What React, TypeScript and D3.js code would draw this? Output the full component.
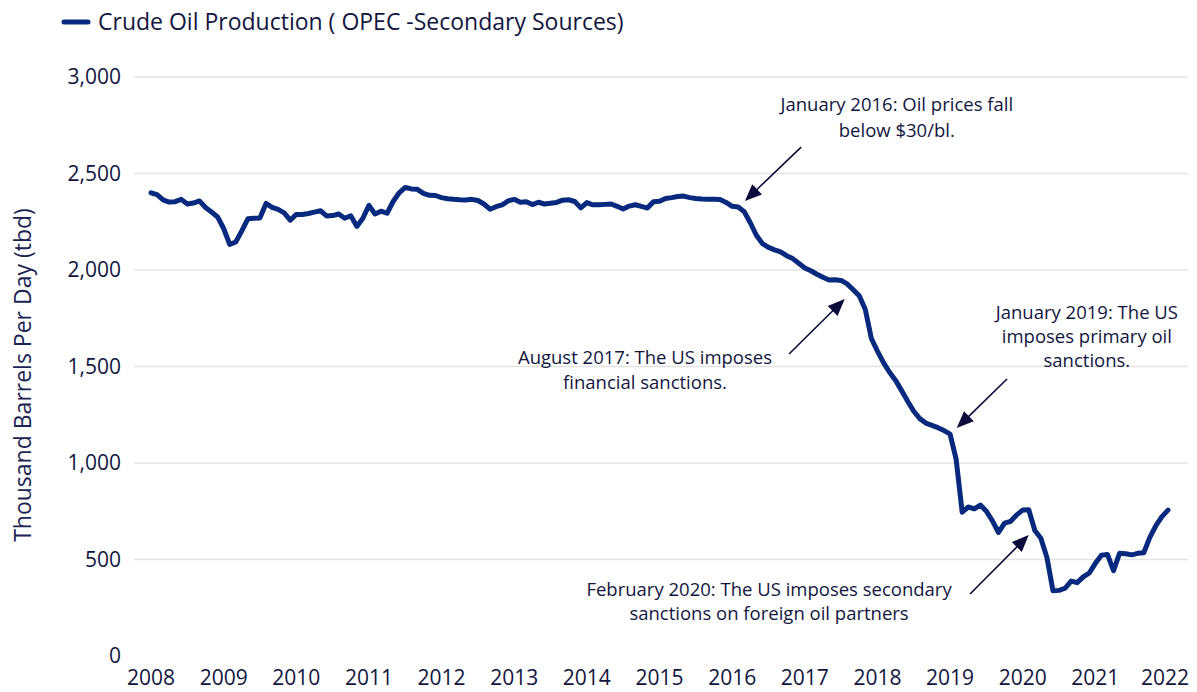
import React from "react";
import * as d3 from "d3";

// Monthly crude oil production (tbd), Jan 2008 .. Jan 2022
const startYear = 2008;
const production: number[] = [
  // 2008
  2400, 2390, 2363, 2352, 2354, 2366, 2342, 2347, 2358, 2324, 2300, 2275,
  // 2009
  2215, 2133, 2145, 2203, 2265, 2268, 2270, 2345, 2325, 2314, 2296, 2258,
  // 2010
  2288, 2288, 2293, 2300, 2307, 2280, 2282, 2290, 2268, 2281, 2226, 2268,
  // 2011
  2335, 2290, 2305, 2294, 2355, 2400, 2428, 2420, 2418, 2397, 2387, 2386,
  // 2012
  2375, 2369, 2366, 2364, 2363, 2366, 2360, 2342, 2315, 2328, 2337, 2358,
  // 2013
  2366, 2351, 2354, 2339, 2351, 2342, 2346, 2350, 2362, 2364, 2355, 2322,
  // 2014
  2349, 2338, 2338, 2340, 2342, 2330, 2316, 2331, 2338, 2330, 2321, 2354,
  // 2015
  2356, 2370, 2375, 2381, 2383, 2375, 2370, 2368, 2367, 2366, 2365, 2350,
  // 2016
  2330, 2326, 2302, 2245, 2180, 2137, 2117, 2104, 2094, 2074, 2059, 2035,
  // 2017
  2010, 1996, 1978, 1962, 1948, 1950, 1946, 1928, 1898, 1866, 1795, 1645,
  // 2018
  1580, 1520, 1470, 1428, 1375, 1320, 1268, 1230, 1207, 1195, 1183, 1168,
  // 2019
  1150, 1020, 745, 772, 762, 782, 750, 700, 640, 688, 698, 731,
  // 2020
  756, 758, 650, 610, 510, 338, 340, 351, 388, 380, 410, 430,
  // 2021
  480, 522, 526, 442, 532, 530, 524, 532, 535, 615, 675, 722,
  // 2022
  756,
];

const yearLabels: string[] = [
  "2008", "2009", "2010", "2011", "2012", "2013", "2014", "2015",
  "2016", "2017", "2018", "2019", "2020", "2021", "2022",
];
const yTicks: number[] = [0, 500, 1000, 1500, 2000, 2500, 3000];

const seriesName = "Crude Oil Production ( OPEC -Secondary Sources)";
const yTitle = "Thousand Barrels Per Day (tbd)";

// Annotation texts
const annotationTexts: string[][] = [
  ["January 2016: Oil prices fall", "below $30/bl."],
  ["August 2017: The US imposes", "financial sanctions."],
  ["January 2019: The US", "imposes primary oil", "sanctions."],
  ["February 2020: The US imposes secondary", "sanctions on foreign oil partners"],
];

const W = 1197;
const H = 692;
const FONT = "'Open Sans', 'Noto Sans', sans-serif";
const LINE_COLOR = "#082a7e";
const TEXT_COLOR = "#12163f";

export default function App() {
  const x = d3.scaleLinear().domain([0, 168]).range([151, 1168]);
  const y = d3.scaleLinear().domain([0, 3000]).range([656, 77]);

  const line = d3
    .line<number>()
    .x((_, i) => x(i))
    .y((d) => y(d))
    .curve(d3.curveLinear);

  // Annotation layout in data space: [monthIndex, value]
  const annLayout = [
    { head: [98.1, 2357], tail: [107.4, 2637], tx: 123.2, ty: [2855, 2725] },
    { head: [114.6, 1850], tail: [105.4, 1565], tx: 81.6, ty: [1544, 1415] },
    { head: [133.1, 1181], tail: [141.4, 1435], tx: 154.6, ty: [1780, 1655, 1530] },
    { head: [145.0, 627], tail: [135.3, 321], tx: 102.1, ty: [342, 218] },
  ];

  const arrow = (hx: number, hy: number, tx: number, ty: number, k: number) => {
    const dx = hx - tx;
    const dy = hy - ty;
    const len = Math.sqrt(dx * dx + dy * dy);
    const ux = dx / len;
    const uy = dy / len;
    const hl = 17;
    const hw = 7;
    const bx = hx - ux * hl;
    const by = hy - uy * hl;
    const pts = [
      [hx, hy],
      [bx - uy * hw, by + ux * hw],
      [bx + uy * hw, by - ux * hw],
    ];
    return (
      <g key={"arr" + k}>
        <line x1={tx} y1={ty} x2={bx + ux * 2} y2={by + uy * 2} stroke="#0b0b3b" strokeWidth={1.6} />
        <polygon points={pts.map((p) => p.join(",")).join(" ")} fill="#0b0b3b" />
      </g>
    );
  };

  return (
    <svg
      width={W}
      height={H}
      style={{ position: "absolute", left: 0, top: 0, background: "#fff" }}
      fontFamily={FONT}
    >
      {/* Legend */}
      <line x1={64} x2={88} y1={22} y2={22} stroke={LINE_COLOR} strokeWidth={5} strokeLinecap="round" />
      <text x={98} y={22} dy="0.35em" fontSize={23} fill={TEXT_COLOR}>
        {seriesName}
      </text>

      {/* Grid */}
      {yTicks
        .filter((t) => t > 0)
        .map((t) => (
          <line key={"g" + t} x1={134} x2={1188} y1={y(t)} y2={y(t)} stroke="#e3e3e3" strokeWidth={1.5} />
        ))}

      {/* Y tick labels */}
      {yTicks.map((t) => (
        <text
          key={"yt" + t}
          x={121}
          y={y(t)}
          dy="0.35em"
          textAnchor="end"
          fontSize={21}
          fontWeight={500}
          fill={TEXT_COLOR}
        >
          {d3.format(",")(t)}
        </text>
      ))}

      {/* X tick labels */}
      {yearLabels.map((lab, k) => (
        <text
          key={"xt" + lab}
          x={x(k * 12) - (k === yearLabels.length - 1 ? 3 : 0)}
          y={678}
          dy="0.35em"
          textAnchor="middle"
          fontSize={21}
          fontWeight={500}
          fill={TEXT_COLOR}
        >
          {lab}
        </text>
      ))}

      {/* Y title */}
      <text
        transform={`translate(23,375) rotate(-90)`}
        textAnchor="middle"
        dy="0.35em"
        fontSize={23}
        fill="#1b2452"
      >
        {yTitle}
      </text>

      {/* Series line */}
      <path
        d={line(production) || ""}
        fill="none"
        stroke={LINE_COLOR}
        strokeWidth={5}
        strokeLinejoin="round"
        strokeLinecap="round"
      />

      {/* Annotations */}
      {annLayout.map((a, k) => (
        <g key={"ann" + k}>
          {arrow(x(a.head[0]), y(a.head[1]), x(a.tail[0]), y(a.tail[1]), k)}
          {annotationTexts[k].map((t, j) => (
            <text
              key={j}
              x={x(a.tx)}
              y={y(a.ty[j])}
              dy="0.35em"
              textAnchor="middle"
              fontSize={18.5}
              fontWeight={500}
              fill={TEXT_COLOR}
            >
              {t}
            </text>
          ))}
        </g>
      ))}
    </svg>
  );
}
